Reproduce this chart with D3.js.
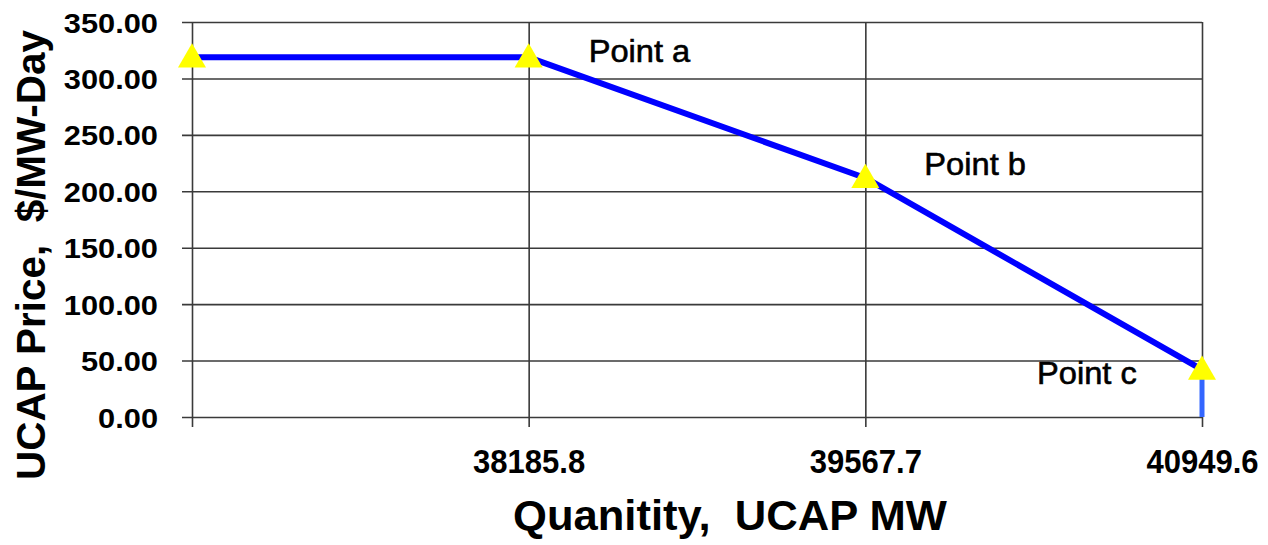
<!DOCTYPE html>
<html>
<head>
<meta charset="utf-8">
<script src="https://cdn.jsdelivr.net/npm/d3@7"></script>
<style>
  html, body { margin: 0; padding: 0; background: #fff; }
  svg { display: block; }
  text { font-family: "Liberation Sans", Arial, sans-serif; }
</style>
</head>
<body>
<svg id="chart" width="1268" height="545"></svg>
<script>
// ---- data ----
const categories = ["", "38185.8", "39567.7", "40949.6"];
const prices = [318.7, 318.7, 211.8, 42.0];
const dropCategories = ["40949.6", "40949.6"];
const dropPrices = [42.0, 0];
const yTicks = [0, 50, 100, 150, 200, 250, 300, 350];
const pointLabels = ["Point a", "Point b", "Point c"];
const pointLabelCats = ["38185.8", "39567.7", "40949.6"];

// ---- layout ----
const svg = d3.select("#chart");
const plotLeft = 192, plotRight = 1202, plotTop = 22, plotBottom = 417;

const x = d3.scalePoint().domain(categories).range([plotLeft, plotRight]);
const y = d3.scaleLinear().domain([0, 350]).range([plotBottom, plotTop]);

const gridColor = "#3a3a3a";

function fit(sel, factor) {
  sel.each(function () {
    const w = this.getComputedTextLength();
    d3.select(this).attr("textLength", w * factor).attr("lengthAdjust", "spacingAndGlyphs");
  });
}

// horizontal gridlines + y axis
const yAxis = d3.axisLeft(y).tickValues(yTicks).tickSize(-(plotRight - plotLeft)).tickSizeOuter(0)
  .tickFormat(d3.format(".2f")).tickPadding(34);
const gy = svg.append("g").attr("transform", `translate(${plotLeft},0)`).call(yAxis);
gy.select(".domain").remove();
gy.selectAll(".tick line").attr("x1", -10).attr("stroke", gridColor).attr("stroke-width", 1.6);
gy.selectAll(".tick text")
  .attr("font-size", 28).attr("font-weight", "bold").attr("fill", "#000")
  .attr("dy", "0.36em").style("font-family", "'Liberation Sans', Arial, sans-serif")
  .call(fit, 1.1);

// vertical gridlines + x axis
const xAxis = d3.axisBottom(x).tickSize(-(plotBottom - plotTop)).tickSizeOuter(0).tickPadding(38);
const gx = svg.append("g").attr("transform", `translate(0,${plotBottom})`).call(xAxis);
gx.select(".domain").remove();
gx.selectAll(".tick line").attr("y1", 10).attr("stroke", gridColor).attr("stroke-width", 1.6);
gx.selectAll(".tick text")
  .attr("font-size", 33).attr("font-weight", "bold").attr("fill", "#000")
  .attr("dy", "0.55em").style("font-family", "'Liberation Sans', Arial, sans-serif")
  .call(fit, 0.94);

// drop line (lighter blue)
const line = d3.line().x(d => x(d[0])).y(d => y(d[1]));
svg.append("path")
  .datum(dropCategories.map((c, i) => [c, dropPrices[i]]))
  .attr("d", line).attr("fill", "none").attr("stroke", "#3366ff").attr("stroke-width", 5);

// main series
svg.append("path")
  .datum(categories.map((c, i) => [c, prices[i]]))
  .attr("d", line).attr("fill", "none").attr("stroke", "#0000ff").attr("stroke-width", 6)
  .attr("stroke-linejoin", "round");

// triangle markers
const tri = d3.symbol().type(d3.symbolTriangle).size(340);
svg.selectAll(".marker").data(categories.map((c, i) => [c, prices[i]]))
  .join("path").attr("class", "marker")
  .attr("d", tri)
  .attr("transform", d => `translate(${x(d[0])},${y(d[1]) + 2})`)
  .attr("fill", "#ffff00");

// point labels
const labelOffsets = [[60, 4.5], [59, -3], [-165, 14]];
svg.selectAll(".plabel").data(pointLabels).join("text").attr("class", "plabel")
  .attr("x", (d, i) => x(pointLabelCats[i]) + labelOffsets[i][0])
  .attr("y", (d, i) => y(prices[i + 1]) + labelOffsets[i][1])
  .attr("font-size", 32).attr("fill", "#000")
  .attr("stroke", "#000").attr("stroke-width", 0.6)
  .text(d => d)
  .call(fit, 1.02);

// axis titles
svg.append("text")
  .attr("x", 730).attr("y", 530).attr("text-anchor", "middle")
  .attr("font-size", 42).attr("font-weight", "bold")
  .attr("textLength", 434).attr("lengthAdjust", "spacingAndGlyphs")
  .attr("xml:space", "preserve")
  .text("Quanitity,  UCAP MW");

svg.append("text")
  .attr("transform", "translate(45,255) rotate(-90)").attr("text-anchor", "middle")
  .attr("font-size", 41).attr("font-weight", "bold")
  .attr("textLength", 450).attr("lengthAdjust", "spacingAndGlyphs")
  .attr("xml:space", "preserve")
  .text("UCAP Price,  $/MW-Day");
</script>
</body>
</html>
